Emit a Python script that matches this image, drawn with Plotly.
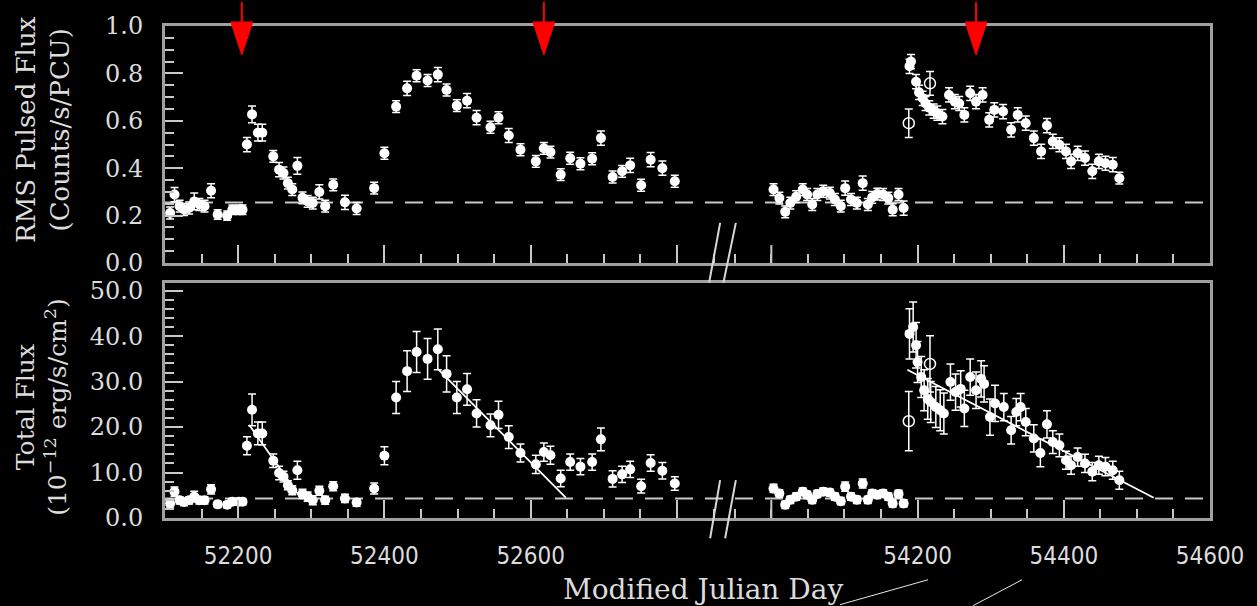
import plotly.graph_objects as go

# ---------------- data ----------------
# Left segment (2001-2003 outbursts)
mjd_left = [52107, 52113, 52120, 52126, 52133, 52140, 52147, 52154, 52163, 52172,
            52185, 52192, 52201, 52206, 52212, 52219, 52227, 52233, 52248, 52256,
            52262, 52268, 52274, 52281, 52288, 52295, 52302, 52311, 52319, 52330,
            52346, 52362, 52386, 52400, 52416, 52431, 52444, 52459, 52473, 52485,
            52499, 52513, 52526, 52545, 52556, 52570, 52586, 52607, 52618, 52627,
            52641, 52654, 52668, 52684, 52696, 52712, 52725, 52736, 52751, 52764,
            52780, 52797]
rms_left = [0.211, 0.289, 0.24, 0.226, 0.232, 0.26, 0.247, 0.24, 0.305, 0.205,
            0.20, 0.225, 0.225, 0.225, 0.50, 0.627, 0.55, 0.55, 0.45, 0.394,
            0.38, 0.337, 0.31, 0.41, 0.275, 0.26, 0.253, 0.30, 0.24, 0.33,
            0.256, 0.23, 0.316, 0.463, 0.66, 0.737, 0.79, 0.77, 0.795, 0.73,
            0.664, 0.685, 0.613, 0.573, 0.613, 0.538, 0.478, 0.429, 0.484, 0.468,
            0.373, 0.442, 0.419, 0.44, 0.527, 0.363, 0.387, 0.412, 0.328, 0.436,
            0.40, 0.345]
rms_left_err = [0.025, 0.03, 0.025, 0.025, 0.025, 0.035, 0.025, 0.025, 0.03, 0.02,
                0.02, 0.02, 0.02, 0.02, 0.03, 0.035, 0.035, 0.035, 0.025, 0.03,
                0.025, 0.025, 0.025, 0.035, 0.025, 0.025, 0.025, 0.03, 0.025, 0.025,
                0.03, 0.025, 0.025, 0.025, 0.025, 0.03, 0.025, 0.025, 0.03, 0.025,
                0.025, 0.03, 0.03, 0.025, 0.025, 0.03, 0.025, 0.025, 0.025, 0.025,
                0.025, 0.025, 0.025, 0.025, 0.03, 0.025, 0.025, 0.03, 0.025, 0.03,
                0.03, 0.025]
flux_left = [3.2, 5.8, 3.9, 3.5, 3.9, 4.7, 3.9, 3.9, 6.3, 3.0,
             2.9, 3.6, 3.6, 3.6, 15.9, 23.8, 18.6, 18.6, 12.6, 9.9,
             9.1, 7.2, 6.1, 10.5, 5.3, 4.7, 3.9, 6.0, 3.9, 7.0,
             4.3, 3.4, 6.5, 13.7, 26.5, 32.3, 36.5, 35.0, 37.1, 31.7,
             26.5, 28.3, 23.0, 20.4, 22.7, 17.8, 14.3, 11.8, 14.5, 13.8,
             8.7, 12.3, 11.3, 12.3, 17.3, 8.6, 9.6, 10.7, 7.0, 12.1,
             10.4, 7.6]
flux_left_err = [0.8, 1.0, 0.8, 0.8, 0.8, 1.2, 0.8, 0.8, 1.0, 0.7,
                 0.7, 0.7, 0.7, 0.7, 2.0, 3.5, 2.5, 2.5, 1.5, 1.5,
                 1.2, 1.0, 1.0, 2.0, 1.0, 1.0, 1.0, 1.0, 0.9, 1.0,
                 0.9, 0.8, 1.2, 2.0, 3.5, 4.5, 4.5, 4.5, 4.5, 4.0,
                 3.5, 3.5, 3.0, 2.5, 3.0, 2.5, 2.0, 2.0, 2.0, 2.0,
                 1.8, 1.8, 1.8, 1.8, 2.5, 1.8, 1.8, 1.8, 1.5, 1.8,
                 1.8, 1.5]

# Right segment: quiescence before 2007 outburst
mjd_quiet = [54003, 54011, 54019, 54026, 54034, 54043, 54049, 54056, 54063, 54071,
             54080, 54087, 54095, 54101, 54109, 54117, 54125, 54132, 54138, 54145,
             54153, 54160, 54166, 54174, 54181]
rms_quiet = [0.31, 0.274, 0.216, 0.253, 0.28, 0.31, 0.289, 0.247, 0.289, 0.303,
             0.295, 0.268, 0.24, 0.316, 0.268, 0.253, 0.337, 0.247, 0.277, 0.291,
             0.289, 0.274, 0.225, 0.289, 0.232]
rms_quiet_err = [0.025, 0.025, 0.025, 0.025, 0.025, 0.025, 0.025, 0.025, 0.025, 0.025,
                 0.025, 0.025, 0.025, 0.03, 0.025, 0.025, 0.03, 0.025, 0.025, 0.025,
                 0.025, 0.025, 0.025, 0.025, 0.03]
flux_quiet = [6.5, 5.4, 2.9, 4.0, 4.7, 5.8, 5.1, 4.0, 5.3, 5.8,
              5.6, 4.7, 3.7, 6.9, 4.7, 4.0, 7.6, 4.0, 5.4, 5.1,
              5.4, 4.7, 3.2, 5.3, 3.2]
flux_quiet_err = [0.9, 0.8, 0.8, 0.8, 0.8, 0.8, 0.8, 0.8, 0.8, 0.8,
                  0.8, 0.8, 0.8, 1.0, 0.8, 0.8, 1.0, 0.8, 0.8, 0.8,
                  0.8, 0.8, 0.8, 0.8, 0.8]

# 2007 outburst
mjd_burst_rms = [54189, 54191, 54198, 54202, 54207, 54211, 54216, 54222, 54227, 54234,
                 54243, 54251, 54257, 54264, 54272, 54280, 54289, 54298, 54305, 54317,
                 54328, 54337, 54348, 54359, 54369, 54377, 54385, 54394, 54403, 54410,
                 54419, 54429, 54439, 54448, 54457, 54467, 54476]
rms_burst = [0.83, 0.85, 0.765, 0.72, 0.695, 0.673, 0.655, 0.641, 0.632, 0.618,
             0.709, 0.681, 0.673, 0.625, 0.716, 0.681, 0.709, 0.604, 0.646, 0.639,
             0.562, 0.625, 0.59, 0.527, 0.471, 0.58, 0.513, 0.499, 0.471, 0.429,
             0.463, 0.443, 0.387, 0.429, 0.421, 0.415, 0.358]
rms_burst_err = [0.03, 0.03, 0.03, 0.03, 0.03, 0.03, 0.03, 0.03, 0.03, 0.03,
                 0.03, 0.03, 0.03, 0.03, 0.03, 0.03, 0.03, 0.03, 0.03, 0.03,
                 0.03, 0.03, 0.03, 0.03, 0.03, 0.03, 0.03, 0.03, 0.03, 0.03,
                 0.03, 0.03, 0.03, 0.03, 0.03, 0.03, 0.025]
mjd_burst_flux = [54189, 54194, 54198, 54200, 54205, 54209, 54214, 54218, 54225, 54231,
                  54236, 54245, 54252, 54259, 54264, 54272, 54280, 54287, 54291, 54299,
                  54306, 54318, 54328, 54335, 54341, 54348, 54359, 54368, 54377, 54385,
                  54394, 54403, 54410, 54419, 54429, 54439, 54448, 54457, 54467, 54476]
flux_burst = [40.5, 42.0, 38.0, 34.3, 31.0, 28.1, 26.2, 25.5, 24.4, 23.7,
              23.0, 29.9, 27.7, 28.4, 24.1, 31.0, 28.1, 30.6, 29.5, 22.2,
              25.2, 24.4, 19.3, 23.3, 24.4, 21.1, 17.5, 14.3, 20.6, 16.7,
              16.0, 12.7, 11.6, 13.4, 12.0, 10.2, 11.6, 11.3, 10.5, 8.3]
flux_burst_err = [5.5, 5.5, 5.0, 4.5, 4.5, 4.5, 4.5, 4.5, 4.5, 4.5,
                  4.5, 4.0, 4.0, 4.0, 4.0, 4.0, 4.0, 4.0, 4.0, 4.0,
                  4.0, 3.0, 3.0, 3.0, 3.0, 3.0, 3.0, 3.0, 3.0, 2.5,
                  2.5, 2.0, 2.0, 2.0, 2.0, 2.0, 2.0, 2.0, 2.0, 2.0]

# open-circle points
mjd_open = [54188, 54217]
rms_open = [0.59, 0.758]
rms_open_err = [0.06, 0.05]
flux_open = [21.3, 33.9]
flux_open_err = [6.5, 6.2]

# quiescent levels and linear decay fits
rms_quiescent_level = 0.255
flux_quiescent_level = 4.3
fit1_mjd, fit1_flux = [52215, 52285], [20.5, 4.5]
fit2_mjd, fit2_flux = [52473, 52648], [32.8, 4.5]
fit3_mjd, fit3_flux = [54186, 54523], [32.6, 4.45]

# red arrows (epochs of interest)
arrow_mjd_left = [52205, 52618]
arrow_mjd_right = [54280]

# axes
x_left_range = [52100, 52859]
x_right_range = [53930, 54600]
x_left_major = [52200, 52400, 52600]
x_left_labels = ["52200", "52400", "52600"]
x_left_unlabeled = [52800]
x_right_major = [54200, 54400, 54600]
x_right_labels = ["54200", "54400", "54600"]
x_right_unlabeled = [54000]
rms_ticks = [0.0, 0.2, 0.4, 0.6, 0.8, 1.0]
flux_ticks = [0.0, 10.0, 20.0, 30.0, 40.0, 50.0]

# ---------------- geometry helpers ----------------
W, H = 1257, 606
L, R, T, B = 164.7, 47, 24, 88
PW, PH = W - L - R, H - T - B


def px2x(px):
    return (px - L) / PW


def py2y(py):
    return (H - B - py) / PH


xsplit = px2x(720)
dom_xl = [0, xsplit]
dom_xr = [xsplit, 1]
dom_top = [py2y(262), 1]
dom_bot = [0, py2y(282)]

TEXT = "#dcdcdc"
FRAME = "#a0a0a0"
TICK = "#c8c8c8"
serif = "DejaVu Serif, Liberation Serif, serif"
narrow = "Liberation Sans Narrow, DejaVu Sans Condensed, Arial Narrow, sans-serif"
MAJOR_LEN = 18

fig = go.Figure()


def pts(x, y, err, xa, ya, open_=False):
    fig.add_trace(go.Scatter(
        x=x, y=y, xaxis=xa, yaxis=ya, mode="markers",
        marker=dict(symbol="circle-open" if open_ else "circle", size=11 if open_ else 10,
                    color="white", line=dict(width=1.5 if open_ else 0, color="white")),
        error_y=dict(type="data", array=err, color="white", thickness=1.5, width=4),
        showlegend=False, hoverinfo="x+y"))


pts(mjd_left, rms_left, rms_left_err, "x", "y")
pts(mjd_quiet, rms_quiet, rms_quiet_err, "x2", "y2")
pts(mjd_burst_rms, rms_burst, rms_burst_err, "x2", "y2")
pts(mjd_open, rms_open, rms_open_err, "x2", "y2", open_=True)
pts(mjd_left, flux_left, flux_left_err, "x3", "y3")
pts(mjd_quiet, flux_quiet, flux_quiet_err, "x4", "y4")
pts(mjd_burst_flux, flux_burst, flux_burst_err, "x4", "y4")
pts(mjd_open, flux_open, flux_open_err, "x4", "y4", open_=True)

for fx, fy, xa, ya in [(fit1_mjd, fit1_flux, "x3", "y3"), (fit2_mjd, fit2_flux, "x3", "y3"),
                       (fit3_mjd, fit3_flux, "x4", "y4")]:
    fig.add_trace(go.Scatter(x=fx, y=fy, xaxis=xa, yaxis=ya, mode="lines",
                             line=dict(color="white", width=1.8), showlegend=False,
                             hoverinfo="skip"))


def xaxis(dom, rng, major, labels, anchor, show_labels):
    return dict(domain=dom, range=rng, anchor=anchor, showgrid=False, zeroline=False,
                showline=True, linecolor=FRAME, linewidth=3, mirror=True,
                ticks="inside", ticklen=MAJOR_LEN, tickwidth=2, tickcolor=TICK,
                tickmode="array", tickvals=major, ticktext=labels,
                showticklabels=show_labels, ticklabelstandoff=14,
                tickfont=dict(family=narrow, size=24, color=TEXT),
                minor=dict(tickmode="linear", tick0=rng[0] - rng[0] % 50, dtick=50,
                           ticks="inside", ticklen=9, tickwidth=2, tickcolor=TICK,
                           showgrid=False))


def yaxis_left(dom, rng, ticks, minor_dtick, anchor):
    return dict(domain=dom, range=rng, anchor=anchor, showgrid=False, zeroline=False,
                showline=True, linecolor=FRAME, linewidth=3, mirror=False,
                ticks="inside", ticklen=MAJOR_LEN, tickwidth=2, tickcolor=TICK,
                tickmode="array", tickvals=ticks, ticktext=[f"{t:.1f}" for t in ticks],
                ticklabelstandoff=14,
                tickfont=dict(family=serif, size=24, color=TEXT),
                minor=dict(tickmode="linear", tick0=0, dtick=minor_dtick, ticks="inside",
                           ticklen=9, tickwidth=2, tickcolor=TICK, showgrid=False))


def yaxis_right(dom, rng, anchor):
    return dict(domain=dom, range=rng, anchor=anchor, side="right", showgrid=False,
                zeroline=False, showline=True, linecolor=FRAME, linewidth=3,
                ticks="", showticklabels=False)


shapes = []
# quiescent dashed levels
for yref, lvl in [("y", rms_quiescent_level), ("y3", flux_quiescent_level)]:
    shapes.append(dict(type="line", xref="paper", x0=0, x1=1, yref=yref, y0=lvl, y1=lvl,
                       line=dict(color=TICK, width=2, dash="18px,12px"), layer="below"))

# unlabeled major ticks (long tick marks without a label)
for xref, vals in [("x", x_left_unlabeled), ("x2", x_right_unlabeled)]:
    for v in vals:
        for base in (dom_top[0], dom_bot[0]):
            shapes.append(dict(type="line", xref=xref, yref="paper", x0=v, x1=v,
                               y0=base, y1=base + MAJOR_LEN / PH,
                               line=dict(color=TICK, width=2)))


# red arrows
def arrow(mjd, xref):
    half = 15
    shapes.append(dict(type="line", xref=xref, yref="paper", x0=mjd, x1=mjd,
                       y0=py2y(0), y1=py2y(22), line=dict(color="#ff0000", width=2)))
    shapes.append(dict(type="path", xref=xref, yref="paper",
                       path=f"M {mjd - half},{py2y(20)} L {mjd + half},{py2y(20)} "
                            f"L {mjd},{py2y(53)} Z",
                       fillcolor="#ff0000", line=dict(color="#ff0000", width=1)))


for m in arrow_mjd_left:
    arrow(m, "x")
for m in arrow_mjd_right:
    arrow(m, "x2")

# axis-break marks
for (xa, ya, xb, yb) in [(720, 221.7, 709, 281.7), (735.7, 221.7, 723.3, 281.7),
                         (720, 480, 710, 538.3), (735.7, 480, 725, 538.3)]:
    shapes.append(dict(type="line", xref="paper", yref="paper",
                       x0=px2x(xa), y0=py2y(ya), x1=px2x(xb), y1=py2y(yb),
                       line=dict(color="#d8d8d8", width=2)))

# stray thin lines below the axis title
for (xa, ya, xb, yb) in [(840, 605, 928, 580), (973, 606, 1022, 580)]:
    shapes.append(dict(type="line", xref="paper", yref="paper",
                       x0=px2x(xa), y0=py2y(ya), x1=px2x(xb), y1=py2y(yb),
                       line=dict(color="#e8e8e8", width=1)))

annotations = [
    dict(text="Modified Julian Day", xref="paper", yref="paper", x=px2x(703), y=py2y(590),
         xanchor="center", yanchor="middle", showarrow=False,
         font=dict(family=serif, size=28, color=TEXT)),
    dict(text="RMS Pulsed Flux<br>(Counts/s/PCU)", xref="paper", yref="paper",
         x=px2x(42), y=py2y(128), xanchor="center", yanchor="middle", showarrow=False,
         textangle=-90, font=dict(family=serif, size=26, color=TEXT)),
    dict(text="Total Flux<br>(10<sup>\u221212</sup> erg/s/cm<sup>2</sup>)", xref="paper",
         yref="paper", x=px2x(42), y=py2y(406), xanchor="center", yanchor="middle",
         showarrow=False, textangle=-90, font=dict(family=serif, size=25, color=TEXT)),
]

fig.update_layout(
    width=W, height=H,
    margin=dict(l=L, r=R, t=T, b=B, pad=0),
    paper_bgcolor="black", plot_bgcolor="rgba(0,0,0,0)",
    showlegend=False,
    xaxis=xaxis(dom_xl, x_left_range, x_left_major, x_left_labels, "y", False),
    xaxis2=xaxis(dom_xr, x_right_range, x_right_major, x_right_labels, "y2", False),
    xaxis3=xaxis(dom_xl, x_left_range, x_left_major, x_left_labels, "y3", True),
    xaxis4=xaxis(dom_xr, x_right_range, x_right_major, x_right_labels, "y4", True),
    yaxis=yaxis_left(dom_top, [0, 1.0], rms_ticks, 0.05, "x"),
    yaxis2=yaxis_right(dom_top, [0, 1.0], "x2"),
    yaxis3=yaxis_left(dom_bot, [0, 51.7], flux_ticks, 2, "x3"),
    yaxis4=yaxis_right(dom_bot, [0, 51.7], "x4"),
    shapes=shapes,
    annotations=annotations,
)

fig.write_html("out.html")
